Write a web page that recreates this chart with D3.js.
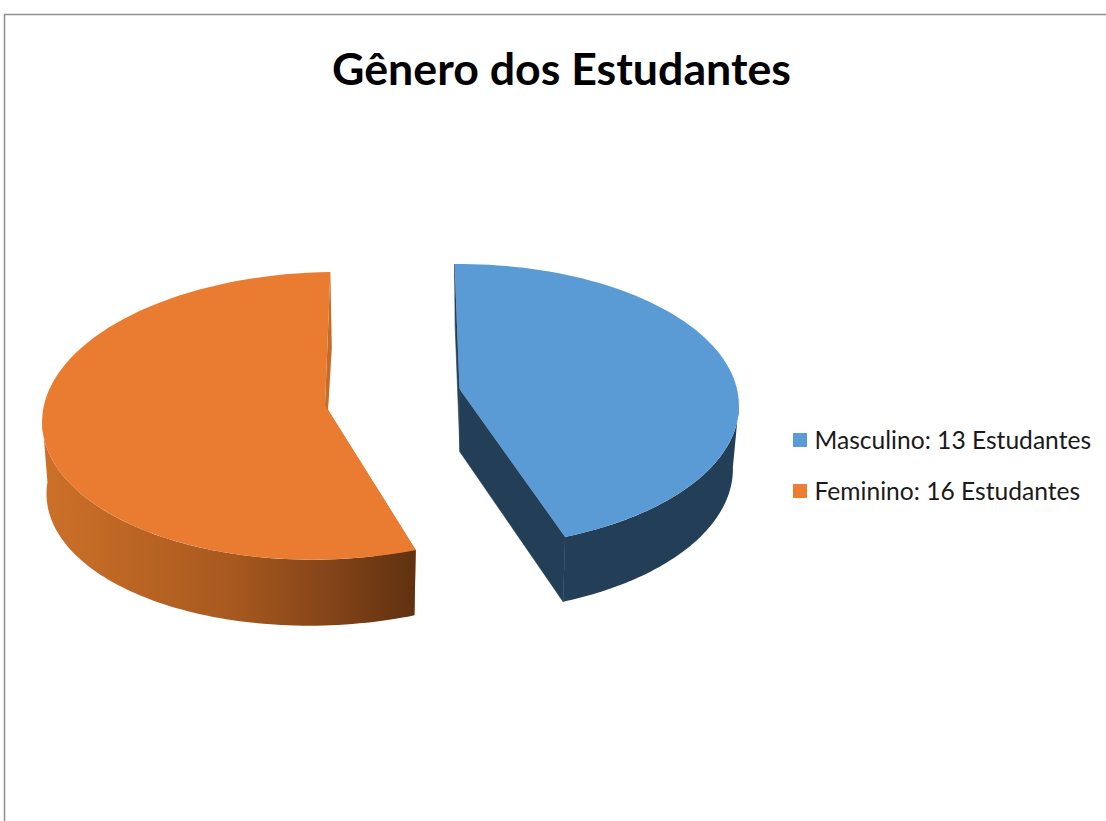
<!DOCTYPE html>
<html>
<head>
<meta charset="utf-8">
<style>html,body{margin:0;padding:0;background:#fff;overflow:hidden}svg{display:block}</style>
<script src="https://cdn.jsdelivr.net/npm/d3@7/dist/d3.min.js"></script>
</head>
<body>
<script>
const title = "Gênero dos Estudantes";
const categories = ["Masculino", "Feminino"];
const values = [13, 16];
const unit = "Estudantes";
const topColors = ["#5b9bd5", "#e97c30"];
const legendColors = ["#5b9bd5", "#ed7d31"];

const W = 1106, H = 821;
const svg = d3.select("body").append("svg").attr("width", W).attr("height", H);

// Chart frame
svg.append("path").attr("d", `M4.5 ${H}V14.5H${W}`).attr("fill", "none")
  .attr("stroke", "#8f8f8f").attr("stroke-width", 1.5);

// Perspective views of each exploded slice: top ring and bottom ring
const views = [
  {top: {cx: 459.5, cy: 389, rx: 277.5, ry: 139.7, p: 0.118, shear: 0},
   bot: {cx: 460, cy: 452, rx: 271, ry: 141.4, p: 0.118, shear: 0},
   sideFrom: 96, sideTo: null},
  {top: {cx: 325, cy: 405, rx: 281, ry: 143, p: 0.0757, shear: -0.08},
   bot: {cx: 324.5, cy: 470, rx: 274, ry: 137, p: 0.12, shear: -0.1},
   sideFrom: null, sideTo: 265}
];
const rad = d => d * Math.PI / 180;

function project(v, a, r) {
  const d = 1 + v.p * Math.cos(a);
  const x0 = r * v.rx * Math.sin(a) / d;
  const y0 = -r * v.ry * Math.cos(a) / d;
  return [v.cx + x0 + v.shear * y0, v.cy + y0];
}
const arcPts = (v, a1, a2) => d3.range(0, 81)
  .map(i => project(v, a1 + (a2 - a1) * i / 80, 1));
const line = d3.line();

const rotation = rad(-1.15);
const slices = d3.pie().sort(null).startAngle(rotation).endAngle(rotation + 2 * Math.PI)(values);

// Side shading
const defs = svg.append("defs");
const grad = defs.append("linearGradient").attr("id", "sideOrange")
  .attr("gradientUnits", "userSpaceOnUse")
  .attr("x1", 47).attr("x2", 414).attr("y1", 0).attr("y2", 0);
[[0, "#cc7029"], [0.5, "#a8591f"], [0.75, "#87451a"], [1, "#60320f"]].forEach(s =>
  grad.append("stop").attr("offset", s[0]).attr("stop-color", s[1]));
const sideFills = ["#233f57", "url(#sideOrange)"];
const wallFills = ["#233f57", "#c46d2a"];

slices.forEach((s, i) => {
  const v = views[i];
  const g = svg.append("g");
  const a1 = s.startAngle, a2 = s.endAngle;

  // Cut walls: both radial faces
  [a1, a2].forEach(a => {
    g.append("path").attr("fill", wallFills[i]).attr("stroke", i === 0 ? wallFills[i] : "none")
      .attr("stroke-width", 0.6).attr("d", line([
      project(v.top, a, 0), project(v.top, a, 1),
      project(v.bot, a, 1), project(v.bot, a, 0)
    ]) + "Z");
  });
  // Outer rim, visible part only
  const from = v.sideFrom !== null ? rad(v.sideFrom) : a1;
  const to = v.sideTo !== null ? rad(v.sideTo) : a2;
  g.append("path").attr("fill", sideFills[i]).attr("d",
    line(arcPts(v.top, from, to).concat(arcPts(v.bot, to, from))) + "Z");
  // Top face
  g.append("path").attr("fill", topColors[i]).attr("d",
    line([project(v.top, a1, 0)].concat(arcPts(v.top, a1, a2))) + "Z");
});

// Title
svg.append("text").text(title).attr("x", 561.5).attr("y", 85)
  .attr("text-anchor", "middle").attr("font-family", "Lato, 'Open Sans', sans-serif")
  .attr("font-weight", 700).attr("font-size", 44.7).attr("fill", "#000");

// Legend
const legendY = d3.scalePoint().domain(categories).range([440, 491]);
const lg = svg.append("g").selectAll("g").data(categories).join("g")
  .attr("transform", d => `translate(793,${legendY(d)})`);
lg.append("rect").attr("x", 0).attr("y", -7).attr("width", 14).attr("height", 14)
  .attr("fill", (d, i) => legendColors[i]);
lg.append("text").text((d, i) => `${d}: ${values[i]} ${unit}`)
  .attr("x", 21.5).attr("y", 8.5)
  .attr("font-family", "Lato, 'Open Sans', sans-serif").attr("font-size", 24.6).attr("fill", "#1a1a1a");
</script>
</body>
</html>
